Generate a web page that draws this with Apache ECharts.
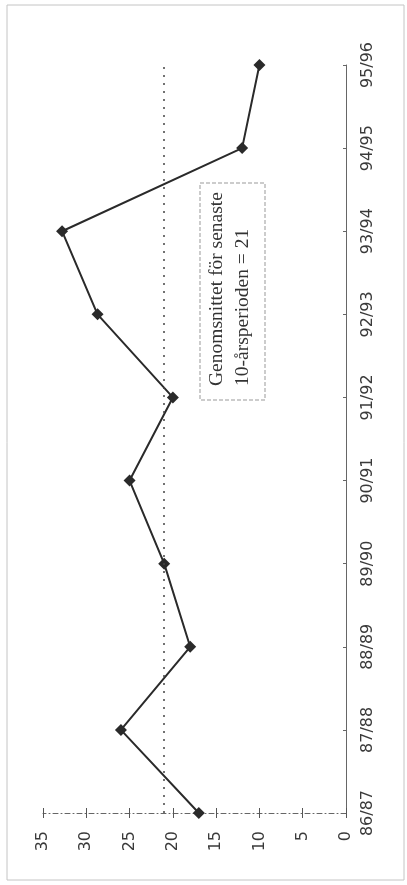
<!DOCTYPE html>
<html>
<head>
<meta charset="utf-8">
<script src="https://cdn.jsdelivr.net/npm/echarts@6/dist/echarts.min.js"></script>
<style>html,body{margin:0;padding:0;background:#fff}#c{width:407px;height:885px}</style>
</head>
<body>
<div id="c"></div>
<script>
var categories = ['86/87','87/88','88/89','89/90','90/91','91/92','92/93','93/94','94/95','95/96'];
var values = [17, 26, 18, 21, 25, 20, 28.7, 32.8, 12, 10];
var averageValue = 21;
var noteLines = ['Genomsnittet för senaste', '10-årsperioden = 21'];

var chart = echarts.init(document.getElementById('c'));
var gridPos = {left: 43, right: 61, top: 65, bottom: 72};
var valueAxisBase = {
  type: 'value', min: 0, max: 35, interval: 5, inverse: true, position: 'bottom',
  splitLine: {show: false}
};
chart.setOption({
  animation: false,
  grid: gridPos,
  xAxis: [
    Object.assign({}, valueAxisBase, {
      axisLine: {show: true, lineStyle: {color: '#666', width: 1, type: [5, 3, 1, 3]}},
      axisTick: {show: true, length: 5, lineStyle: {color: '#555'}},
      axisLabel: {rotate: 90, margin: 18, color: '#3a3a3a', fontSize: 16, fontFamily: 'DejaVu Sans'}
    }),
    Object.assign({}, valueAxisBase, {
      axisLine: {show: false},
      axisTick: {show: true, inside: true, length: 5, lineStyle: {color: '#555'}},
      axisLabel: {show: false}
    })
  ],
  yAxis: {
    type: 'category', data: categories, boundaryGap: false, position: 'right',
    axisLine: {show: true, lineStyle: {color: '#666', width: 1}},
    axisTick: {show: true, inside: true, length: 3, lineStyle: {color: '#666'}},
    axisLabel: {rotate: 90, margin: 14, color: '#3a3a3a', fontSize: 16, fontFamily: 'DejaVu Sans'},
    splitLine: {show: false}
  },
  series: [{
    type: 'line', xAxisIndex: 0, data: values,
    symbol: 'diamond', symbolSize: 12,
    lineStyle: {color: '#2a2a2a', width: 2},
    itemStyle: {color: '#2a2a2a'},
    markLine: {
      silent: true, symbol: 'none', label: {show: false},
      lineStyle: {color: '#444', type: [2, 6], width: 1.5},
      data: [[{coord: [averageValue, categories[0]]}, {coord: [averageValue, categories[categories.length - 1]]}]]
    }
  }],
  graphic: [
    {type: 'rect', shape: {x: 7, y: 5, width: 397, height: 875}, style: {fill: 'none', stroke: '#c4c4c4', lineWidth: 1}, z: -1},
    {type: 'rect', shape: {x: 200, y: 183, width: 65, height: 217}, style: {fill: '#fff', stroke: '#999', lineWidth: 1, lineDash: [4, 2]}},
    {type: 'text', x: 204, y: 386, rotation: Math.PI / 2,
     style: {text: noteLines.join('\n'), fontFamily: 'Liberation Serif', fontSize: 19.5, lineHeight: 26, fill: '#333', align: 'left', verticalAlign: 'top'}}
  ]
});
</script>
</body>
</html>
